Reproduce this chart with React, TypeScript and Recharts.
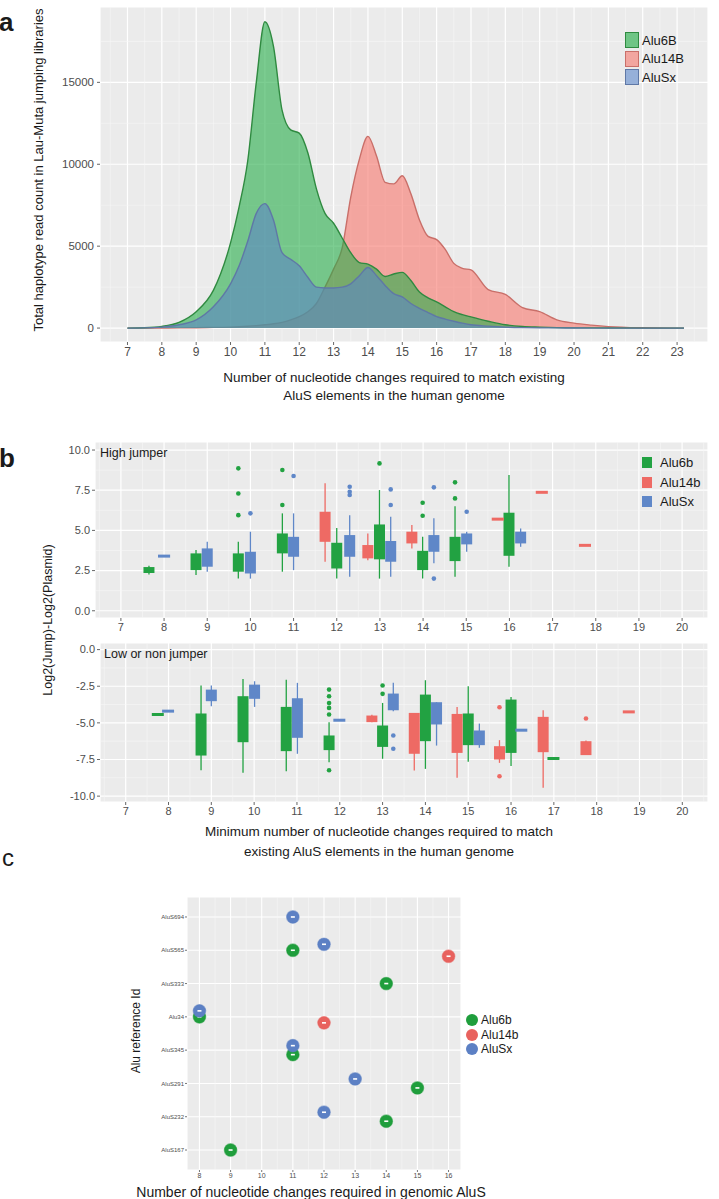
import React from "react";
import { Area, CartesianGrid, ComposedChart, Legend, Line, Scatter, XAxis, YAxis } from "recharts";

const FONT = '"Liberation Sans", Arial, Helvetica, sans-serif';
const PANEL_BG = "#EBEBEB";
const TICK_GREY = "#4d4d4d";

// ---------- panel a: read count density ----------
const DENSITY_X = [7, 7.5, 8, 8.5, 9, 9.5, 10, 10.25, 10.5, 10.75, 11, 11.25, 11.5, 11.75, 12, 12.25, 12.5, 12.75, 13, 13.25, 13.5, 13.75, 14, 14.25, 14.5, 14.75, 15, 15.25, 15.5, 15.75, 16, 16.25, 16.5, 16.75, 17, 17.5, 18, 18.5, 19, 19.5, 20, 20.5, 21, 22, 23, 23.2];
const ALU6B_DENSITY = [0, 20, 100, 350, 1000, 2300, 5200, 7400, 10200, 15000, 18700, 17200, 13300, 12100, 11900, 10700, 8500, 7000, 6400, 5500, 4600, 4000, 3900, 3600, 3150, 3300, 3400, 2900, 2200, 1850, 1600, 1300, 1000, 820, 680, 420, 200, 100, 60, 30, 15, 10, 5, 0, 0, 0];
const ALU14B_DENSITY = [0, 0, 5, 10, 20, 40, 60, 80, 110, 150, 200, 260, 350, 500, 700, 1000, 1500, 2500, 3600, 4900, 8000, 10300, 11700, 10500, 8900, 8800, 9300, 8200, 6600, 5600, 5400, 4800, 3950, 3650, 3550, 2350, 2050, 1250, 1000, 500, 300, 180, 90, 20, 0, 0];
const ALUSX_DENSITY = [0, 10, 60, 200, 500, 1300, 2700, 3800, 5300, 7000, 7600, 6600, 4600, 4200, 3800, 3100, 2500, 2450, 2450, 2500, 2700, 3200, 3700, 3200, 2600, 2100, 1900, 1500, 1200, 950, 700, 550, 420, 300, 200, 120, 60, 30, 15, 10, 5, 0, 0, 0, 0, 0];
const A_X_TICKS = [7, 8, 9, 10, 11, 12, 13, 14, 15, 16, 17, 18, 19, 20, 21, 22, 23];
const A_Y_TICKS = [0, 5000, 10000, 15000];
const A_X_DOMAIN: [number, number] = [6.2, 23.9];
const A_Y_DOMAIN: [number, number] = [-850, 19600];
const A_LEGEND = ["Alu6B", "Alu14B", "AluSx"];

// ---------- panel b: box plots, [x, lower whisker, q1, q3, upper whisker] ----------
type Box = [number, number, number, number, number];
type Pt = [number, number];

const B_X_TICKS = [7, 8, 9, 10, 11, 12, 13, 14, 15, 16, 17, 18, 19, 20];
const B_X_DOMAIN: [number, number] = [6.4, 20.6];
const HIGH_Y_TICKS = [0, 2.5, 5, 7.5, 10];
const HIGH_Y_DOMAIN: [number, number] = [-0.45, 10.5];
const LOW_Y_TICKS = [-10, -7.5, -5, -2.5, 0];
const LOW_Y_DOMAIN: [number, number] = [-10.4, 0.45];
const B_LEGEND = ["Alu6b", "Alu14b", "AluSx"];

const HIGH_ALU6B_BOXES: Box[] = [
  [7.65, 2.25, 2.35, 2.72, 2.8],
  [8.74, 2.22, 2.53, 3.57, 3.78],
  [9.72, 2.0, 2.43, 3.57, 4.3],
  [10.74, 2.43, 3.57, 4.81, 6.06],
  [12.0, 2.0, 2.63, 4.23, 5.15],
  [12.99, 2.0, 3.2, 5.37, 7.51],
  [13.99, 2.0, 2.53, 3.73, 4.6],
  [14.74, 2.12, 3.09, 4.6, 6.5],
  [15.99, 2.74, 3.42, 6.1, 8.44],
];
const HIGH_ALU6B_SINGLES: Pt[] = [];
const HIGH_ALU6B_OUTLIERS: Pt[] = [[9.72, 8.86], [9.72, 7.3], [9.72, 5.95], [10.74, 6.58], [10.74, 8.76], [12.99, 9.17], [13.99, 6.72], [13.99, 5.91], [14.74, 7.99], [14.74, 6.99]];

const HIGH_ALU14B_BOXES: Box[] = [
  [11.73, 3.05, 4.29, 6.16, 7.93],
  [12.72, 3.15, 3.26, 4.09, 4.81],
  [13.74, 3.88, 4.19, 4.92, 5.33],
];
const HIGH_ALU14B_SINGLES: Pt[] = [[15.73, 5.7], [16.75, 7.37], [17.75, 4.07]];
const HIGH_ALU14B_OUTLIERS: Pt[] = [];

const HIGH_ALUSX_BOXES: Box[] = [
  [9.0, 2.43, 2.74, 3.88, 4.29],
  [10.0, 2.0, 2.32, 3.67, 4.92],
  [11.0, 2.53, 3.36, 4.6, 6.06],
  [12.3, 2.12, 3.36, 4.71, 5.95],
  [13.25, 2.12, 3.05, 4.34, 5.85],
  [14.25, 2.95, 3.67, 4.71, 5.75],
  [15.01, 3.67, 4.13, 4.81, 4.92],
  [16.26, 3.98, 4.19, 4.92, 5.12],
];
const HIGH_ALUSX_SINGLES: Pt[] = [[8.0, 3.4]];
const HIGH_ALUSX_OUTLIERS: Pt[] = [[10.0, 6.06], [11.0, 8.38], [12.3, 7.72], [12.3, 7.4], [12.3, 7.2], [13.25, 7.55], [13.25, 6.58], [14.25, 7.68], [14.25, 2.0], [15.01, 6.16]];

const LOW_ALU6B_BOXES: Box[] = [
  [8.76, -8.23, -7.23, -4.36, -2.45],
  [9.74, -8.41, -6.32, -3.18, -2.0],
  [10.75, -8.3, -6.93, -3.91, -2.05],
  [11.75, -7.68, -6.86, -5.86, -4.95],
  [13.0, -7.45, -6.64, -5.18, -3.64],
  [14.0, -8.14, -6.25, -3.07, -2.09],
  [15.0, -7.66, -6.52, -4.36, -2.5],
  [16.0, -7.95, -7.05, -3.41, -3.23],
];
const LOW_ALU6B_SINGLES: Pt[] = [[7.75, -4.43], [16.99, -7.43]];
const LOW_ALU6B_OUTLIERS: Pt[] = [[11.75, -2.73], [11.75, -3.18], [11.75, -3.64], [11.75, -3.98], [11.75, -4.43], [11.75, -8.23], [13.0, -2.45], [13.0, -3.02]];

const LOW_ALU14B_BOXES: Box[] = [
  [12.75, -4.95, -4.95, -4.5, -4.45],
  [13.74, -8.25, -7.11, -4.32, -4.32],
  [14.74, -8.75, -7.05, -4.39, -3.91],
  [15.73, -7.73, -7.5, -6.59, -6.18],
  [16.75, -9.43, -7.0, -4.59, -4.14],
  [17.75, -7.2, -7.2, -6.25, -6.2],
];
const LOW_ALU14B_SINGLES: Pt[] = [[18.75, -4.25]];
const LOW_ALU14B_OUTLIERS: Pt[] = [[15.73, -3.93], [15.73, -8.64], [17.75, -4.7]];

const LOW_ALUSX_BOXES: Box[] = [
  [9.0, -3.86, -3.52, -2.73, -2.45],
  [10.01, -3.91, -3.36, -2.39, -2.16],
  [11.01, -7.11, -6.02, -3.32, -2.27],
  [13.25, -4.2, -4.14, -3.0, -2.27],
  [14.26, -6.55, -5.11, -3.59, -3.59],
  [15.26, -6.7, -6.52, -5.52, -5.05],
];
const LOW_ALUSX_SINGLES: Pt[] = [[7.99, -4.2], [11.99, -4.82], [16.24, -5.5]];
const LOW_ALUSX_OUTLIERS: Pt[] = [[13.25, -5.86], [13.25, -6.77]];

// ---------- panel c: reference element hits ----------
const REF_IDS = ["AluS694", "AluS565", "AluS333", "Alu34", "AluS345", "AluS291", "AluS232", "AluS167"]; // top to bottom
const C_X_TICKS = [8, 9, 10, 11, 12, 13, 14, 15, 16];
const C_X_DOMAIN: [number, number] = [7.6, 16.4];
const ALUSX_HITS: [string, number][] = [["AluS694", 11], ["AluS565", 12], ["Alu34", 8], ["AluS345", 11], ["AluS291", 13], ["AluS232", 12]];
const ALU6B_HITS: [string, number][] = [["AluS565", 11], ["AluS333", 14], ["Alu34", 8], ["AluS345", 11], ["AluS291", 15], ["AluS232", 14], ["AluS167", 9]];
const ALU14B_HITS: [string, number][] = [["AluS565", 16], ["Alu34", 12]];
const C_LEGEND = ["Alu6b", "Alu14b", "AluSx"];

// colours
const A_COLORS = [
  { fill: "#27ad4a", stroke: "#2f8a40", swatch: "#6fc585" },
  { fill: "#f8766d", stroke: "#c96f69", swatch: "#f2a6a0" },
  { fill: "#5b86c5", stroke: "#5f78a6", swatch: "#96b0d9" },
];
const B_COLORS = ["#22a242", "#ee6a64", "#5f87c8"];
const C_COLORS = ["#1f9e3c", "#e8625e", "#5c80c4"];

const BOX_PX = 11;
const HALF_BOX = 0.14;

function minorBreaks(ticks: number[], domain: [number, number]) {
  const step = ticks[1] - ticks[0];
  const out: number[] = [];
  for (let i = -1; i < ticks.length; i++) {
    const m = ticks[0] + (i + 0.5) * step;
    if (m > domain[0] && m < domain[1]) out.push(m);
  }
  return out;
}

const axisTick = (size: number) => ({ fontSize: size, fill: TICK_GREY, fontFamily: FONT });

function Text({ x, y, size, children, rotate, bold, left }: any) {
  return (
    <div
      style={{
        position: "absolute",
        left: x,
        top: y,
        fontSize: size,
        fontWeight: bold ? 700 : 400,
        whiteSpace: "nowrap",
        lineHeight: 1,
        color: "#1a1a1a",
        transform: `translate(${left ? "0" : "-50%"}, -50%)${rotate ? " rotate(-90deg)" : ""}`,
      }}
    >
      {children}
    </div>
  );
}

function DensityPanel() {
  const rows = DENSITY_X.map((x, i) => ({
    x,
    alu6b: ALU6B_DENSITY[i],
    alu14b: ALU14B_DENSITY[i],
    alusx: ALUSX_DENSITY[i],
  }));
  const keys = ["alu6b", "alu14b", "alusx"];
  const drawOrder = [1, 0, 2];
  return (
    <ComposedChart width={719} height={370} data={rows} margin={{ top: 7, right: 11, bottom: 8, left: 0 }}>
      <CartesianGrid fill={PANEL_BG} stroke="#ffffff" strokeWidth={1.2} />
      <CartesianGrid
        fill="none"
        stroke="#f7f7f7"
        strokeWidth={0.6}
        verticalValues={minorBreaks(A_X_TICKS, A_X_DOMAIN)}
        horizontalValues={minorBreaks(A_Y_TICKS, A_Y_DOMAIN)}
      />
      <XAxis type="number" dataKey="x" domain={A_X_DOMAIN} ticks={A_X_TICKS} allowDataOverflow interval={0}
        axisLine={false} tickSize={3} tickMargin={2} tickLine={{ stroke: "#666" }} tick={axisTick(12)} height={20} />
      <YAxis type="number" domain={A_Y_DOMAIN} ticks={A_Y_TICKS} allowDataOverflow interval={0} width={100}
        axisLine={false} tickSize={3} tickMargin={3} tickLine={{ stroke: "#666" }} tick={axisTick(11.5)} />
      {drawOrder.map((i) => (
        <Area key={keys[i]} type="monotone" dataKey={keys[i]} baseValue={0} fill={A_COLORS[i].fill} fillOpacity={0.6}
          stroke={A_COLORS[i].stroke} strokeWidth={1.4} dot={false} activeDot={false} isAnimationActive={false} />
      ))}
      <Legend layout="vertical" align="center" verticalAlign="middle" wrapperStyle={{ left: 625, top: 31, width: 80 }}
        content={() => (
          <div style={{ fontFamily: FONT }}>
            {A_LEGEND.map((name, i) => (
              <div key={name} style={{ display: "flex", alignItems: "center", height: 18.5 }}>
                <div style={{ width: 14, height: 16, background: A_COLORS[i].swatch, border: `1px solid ${A_COLORS[i].stroke}`, boxSizing: "border-box" }} />
                <span style={{ fontSize: 13, marginLeft: 3, color: "#1a1a1a" }}>{name}</span>
              </div>
            ))}
          </div>
        )} />
    </ComposedChart>
  );
}

function boxMarks(prefix: string, color: string, boxes: Box[], singles: Pt[], outliers: Pt[]) {
  const marks: React.ReactNode[] = [];
  boxes.forEach(([x, lo, q1, q3, hi], i) => {
    marks.push(
      <Line key={`${prefix}w${i}`} data={[{ x, y: lo }, { x, y: hi }]} dataKey="y" type="linear" stroke={color}
        strokeWidth={1.3} dot={false} activeDot={false} legendType="none" isAnimationActive={false} />
    );
    marks.push(
      <Line key={`${prefix}b${i}`} data={[{ x, y: q1 }, { x, y: q3 }]} dataKey="y" type="linear" stroke={color}
        strokeWidth={BOX_PX} dot={false} activeDot={false} legendType="none" isAnimationActive={false} />
    );
  });
  singles.forEach(([x, v], i) => {
    marks.push(
      <Line key={`${prefix}s${i}`} data={[{ x: x - HALF_BOX, y: v }, { x: x + HALF_BOX, y: v }]} dataKey="y" type="linear"
        stroke={color} strokeWidth={3} dot={false} activeDot={false} legendType="none" isAnimationActive={false} />
    );
  });
  if (outliers.length) {
    marks.push(
      <Scatter key={`${prefix}o`} data={outliers.map(([x, y]) => ({ x, y }))} fill={color} legendType="none"
        isAnimationActive={false} shape={(p: any) => <circle cx={p.cx} cy={p.cy} r={2.3} fill={color} />} />
    );
  }
  return marks;
}

function FacetChart({ height, yWidth, yDomain, yTicks, groups, legend }: any) {
  return (
    <ComposedChart width={719} height={height} margin={{ top: 10, right: 11, bottom: 0, left: 0 }}>
      <CartesianGrid fill={PANEL_BG} stroke="#ffffff" strokeWidth={1.2} />
      <CartesianGrid fill="none" stroke="#f7f7f7" strokeWidth={0.6}
        verticalValues={minorBreaks(B_X_TICKS, B_X_DOMAIN)} horizontalValues={minorBreaks(yTicks, yDomain)} />
      <XAxis type="number" dataKey="x" domain={B_X_DOMAIN} ticks={B_X_TICKS} allowDataOverflow interval={0}
        axisLine={false} tickSize={3} tickMargin={2} tickLine={{ stroke: "#666" }} tick={axisTick(11)} height={18} />
      <YAxis type="number" dataKey="y" domain={yDomain} ticks={yTicks} allowDataOverflow interval={0} width={yWidth}
        axisLine={false} tickSize={3} tickMargin={2} tickLine={{ stroke: "#666" }} tick={axisTick(11)}
        tickFormatter={(v: number) => v.toFixed(1)} />
      {groups.map((g: any, i: number) => boxMarks(`g${i}`, B_COLORS[i], g[0], g[1], g[2]))}
      {legend && (
        <Legend layout="vertical" align="center" verticalAlign="middle" wrapperStyle={{ left: 642, top: 21, width: 76 }}
          content={() => (
            <div style={{ fontFamily: FONT }}>
              {B_LEGEND.map((name, i) => (
                <div key={name} style={{ display: "flex", alignItems: "center", height: 19.5 }}>
                  <div style={{ width: 10, height: 11, background: B_COLORS[i] }} />
                  <span style={{ fontSize: 13, marginLeft: 8, color: "#1a1a1a" }}>{name}</span>
                </div>
              ))}
            </div>
          )} />
      )}
    </ComposedChart>
  );
}

function hitPoints(series: number) {
  const order = [ALUSX_HITS, ALU6B_HITS, ALU14B_HITS]; // dodge order, top to bottom
  const own = order[[1, 2, 0][series]];
  return own.map(([id, x]) => {
    const present = order.filter((hits) => hits.some((h) => h[0] === id));
    const k = present.indexOf(own);
    const n = present.length;
    const y = REF_IDS.length - REF_IDS.indexOf(id) + ((n - 1) / 2 - k) * (0.54 / n);
    return { x, y };
  });
}

function ReferencePanel() {
  const yTicks = REF_IDS.map((_, i) => i + 1);
  return (
    <ComposedChart width={470} height={299} margin={{ top: 10, right: 9, bottom: 0, left: 0 }}>
      <CartesianGrid fill={PANEL_BG} stroke="#ffffff" strokeWidth={1.1} />
      <CartesianGrid fill="none" horizontal={false} stroke="#f7f7f7" strokeWidth={0.6}
        verticalValues={minorBreaks(C_X_TICKS, C_X_DOMAIN)} />
      <XAxis type="number" dataKey="x" domain={C_X_DOMAIN} ticks={C_X_TICKS} allowDataOverflow interval={0}
        axisLine={false} tickSize={2} tickMargin={1} tickLine={{ stroke: "#777" }} tick={axisTick(7)} height={16} />
      <YAxis type="number" dataKey="y" domain={[0.4, 8.6]} ticks={yTicks} allowDataOverflow interval={0} width={187}
        axisLine={false} tickSize={2} tickMargin={1} tickLine={{ stroke: "#777" }} tick={axisTick(6)}
        tickFormatter={(v: number) => REF_IDS[REF_IDS.length - v]} />
      {[0, 1, 2].map((s) => (
        <Scatter key={C_LEGEND[s]} data={hitPoints(s)} fill={C_COLORS[s]} isAnimationActive={false}
          shape={(p: any) => (
            <g>
              <circle cx={p.cx} cy={p.cy} r={6.3} fill={C_COLORS[s]} stroke={C_COLORS[s]} strokeOpacity={0.5} strokeWidth={1.2} />
              <rect x={p.cx - 2} y={p.cy - 0.8} width={4} height={1.6} fill="#ffffff" />
            </g>
          )} />
      ))}
      <Legend layout="vertical" align="center" verticalAlign="middle" wrapperStyle={{ left: 466, top: 126, width: 70 }}
        content={() => (
          <div style={{ fontFamily: FONT }}>
            {C_LEGEND.map((name, i) => (
              <div key={name} style={{ display: "flex", alignItems: "center", height: 14.5 }}>
                <div style={{ width: 12, height: 12, borderRadius: 6, background: C_COLORS[i] }} />
                <span style={{ fontSize: 12, marginLeft: 3, color: "#1a1a1a" }}>{name}</span>
              </div>
            ))}
          </div>
        )} />
    </ComposedChart>
  );
}

export default function App() {
  return (
    <div style={{ position: "absolute", left: 0, top: 0, width: 719, height: 1199, overflow: "hidden", background: "#fff", fontFamily: FONT }}>
      <div style={{ position: "absolute", left: 0, top: 0 }}>
        <DensityPanel />
      </div>
      <div style={{ position: "absolute", left: 0, top: 432 }}>
        <FacetChart height={204} yWidth={95} yDomain={HIGH_Y_DOMAIN} yTicks={HIGH_Y_TICKS} legend
          groups={[
            [HIGH_ALU6B_BOXES, HIGH_ALU6B_SINGLES, HIGH_ALU6B_OUTLIERS],
            [HIGH_ALU14B_BOXES, HIGH_ALU14B_SINGLES, HIGH_ALU14B_OUTLIERS],
            [HIGH_ALUSX_BOXES, HIGH_ALUSX_SINGLES, HIGH_ALUSX_OUTLIERS],
          ]} />
      </div>
      <div style={{ position: "absolute", left: 0, top: 633 }}>
        <FacetChart height={187} yWidth={100} yDomain={LOW_Y_DOMAIN} yTicks={LOW_Y_TICKS}
          groups={[
            [LOW_ALU6B_BOXES, LOW_ALU6B_SINGLES, LOW_ALU6B_OUTLIERS],
            [LOW_ALU14B_BOXES, LOW_ALU14B_SINGLES, LOW_ALU14B_OUTLIERS],
            [LOW_ALUSX_BOXES, LOW_ALUSX_SINGLES, LOW_ALUSX_OUTLIERS],
          ]} />
      </div>
      <div style={{ position: "absolute", left: 0, top: 887 }}>
        <ReferencePanel />
      </div>

      <Text x={-1} y={22} size={26} bold left>a</Text>
      <Text x={38} y={170} size={13} rotate>Total haplotype read count in Lau-Muta jumping libraries</Text>
      <Text x={394} y={378} size={13.5}>Number of nucleotide changes required to match existing</Text>
      <Text x={394} y={396} size={13.5}>AluS elements in the human genome</Text>

      <Text x={-1} y={458} size={26} bold left>b</Text>
      <Text x={100} y={453} size={12.5} left>High jumper</Text>
      <Text x={104} y={654} size={12.5} left>Low or non jumper</Text>
      <Text x={48} y={620} size={12.5} rotate>Log2(Jump)-Log2(Plasmid)</Text>
      <Text x={379} y={832} size={13.5}>Minimum number of nucleotide changes required to match</Text>
      <Text x={379} y={852} size={13.5}>existing AluS elements in the human genome</Text>

      <Text x={2} y={858} size={24} left>c</Text>
      <Text x={136} y={1031} size={12} rotate>Alu reference Id</Text>
      <Text x={311} y={1192} size={14}>Number of nucleotide changes required in genomic AluS</Text>
    </div>
  );
}
